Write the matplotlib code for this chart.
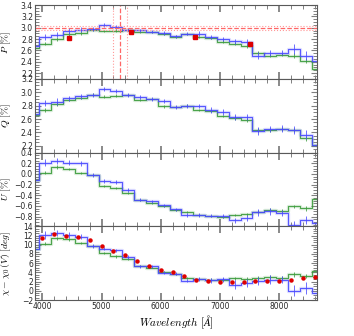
import matplotlib
matplotlib.use('Agg')
import matplotlib.pyplot as plt
from matplotlib.ticker import MultipleLocator, AutoMinorLocator

plt.rcParams['mathtext.fontset'] = 'cm'

# bin centres (Angstrom)
wave = [3850, 4050, 4250, 4450, 4650, 4850, 5050, 5250, 5450, 5650, 5850, 6050, 6250,
        6450, 6650, 6850, 7050, 7250, 7450, 7650, 7850, 8050, 8250, 8450, 8650]

p_blue = [2.68, 2.84, 2.88, 2.94, 2.966, 2.975, 3.05, 3.01, 2.966, 2.955, 2.93, 2.91, 2.85,
          2.895, 2.895, 2.836, 2.80, 2.76, 2.745, 2.505, 2.55, 2.563, 2.62, 2.51, 2.405]
p_green = [2.64, 2.72, 2.80, 2.89, 2.91, 2.954, 2.94, 2.95, 2.96, 2.92, 2.925, 2.89, 2.845,
           2.895, 2.836, 2.82, 2.755, 2.722, 2.68, 2.56, 2.51, 2.528, 2.51, 2.42, 2.265]
p_blue_err = [0.04, 0.05, 0.05, 0.05, 0.04, 0.04, 0.04, 0.03, 0.03, 0.03, 0.03, 0.03, 0.03,
              0.03, 0.04, 0.03, 0.04, 0.05, 0.05, 0.06, 0.05, 0.04, 0.09, 0.08, 0.08]
p_green_err = [0.03, 0.03, 0.03, 0.03, 0.03, 0.02, 0.02, 0.02, 0.02, 0.02, 0.02, 0.02, 0.02,
               0.02, 0.02, 0.02, 0.03, 0.03, 0.03, 0.03, 0.03, 0.03, 0.04, 0.04, 0.04]

q_blue = [2.68, 2.84, 2.86, 2.91, 2.94, 2.965, 3.05, 3.02, 2.96, 2.925, 2.90, 2.875, 2.78,
          2.80, 2.79, 2.735, 2.705, 2.63, 2.63, 2.415, 2.45, 2.455, 2.44, 2.365, 2.21]
q_green = [2.655, 2.735, 2.82, 2.885, 2.915, 2.965, 2.935, 2.95, 2.96, 2.885, 2.90, 2.79, 2.78,
           2.80, 2.735, 2.72, 2.645, 2.62, 2.58, 2.44, 2.44, 2.455, 2.43, 2.31, 2.21]
q_blue_err = [0.04, 0.05, 0.05, 0.04, 0.04, 0.03, 0.03, 0.03, 0.03, 0.03, 0.03, 0.03, 0.03,
              0.03, 0.03, 0.04, 0.04, 0.04, 0.05, 0.06, 0.05, 0.05, 0.06, 0.07, 0.07]
q_green_err = [0.03, 0.03, 0.03, 0.02, 0.02, 0.02, 0.02, 0.02, 0.02, 0.02, 0.02, 0.02, 0.02,
               0.02, 0.02, 0.02, 0.02, 0.03, 0.03, 0.03, 0.03, 0.03, 0.03, 0.04, 0.04]

u_blue = [-0.11, 0.21, 0.245, 0.21, 0.195, -0.025, -0.13, -0.155, -0.30, -0.48, -0.51, -0.59, -0.66,
          -0.77, -0.77, -0.785, -0.785, -0.87, -0.82, -0.72, -0.70, -0.735, -0.95, -0.86, -0.915]
u_green = [-0.11, 0.02, 0.13, 0.10, 0.02, -0.025, -0.225, -0.27, -0.355, -0.48, -0.54, -0.605, -0.68,
           -0.72, -0.765, -0.785, -0.805, -0.765, -0.755, -0.71, -0.67, -0.69, -0.605, -0.645, -0.475]
u_blue_err = [0.05, 0.06, 0.06, 0.05, 0.04, 0.04, 0.04, 0.04, 0.04, 0.03, 0.03, 0.03, 0.03,
              0.03, 0.03, 0.03, 0.04, 0.05, 0.06, 0.07, 0.07, 0.06, 0.07, 0.08, 0.08]
u_green_err = [0.03, 0.03, 0.03, 0.02, 0.02, 0.02, 0.02, 0.02, 0.02, 0.02, 0.02, 0.02, 0.02,
               0.02, 0.02, 0.02, 0.02, 0.02, 0.03, 0.03, 0.03, 0.03, 0.03, 0.04, 0.04]

chi_blue = [9.1, 12.1, 12.5, 12.1, 11.75, 9.75, 9.15, 8.77, 7.4, 5.3, 5.3, 3.95, 3.7,
            2.24, 2.6, 2.3, 2.5, 1.35, 1.73, 2.1, 2.45, 2.45, 0.0, 0.6, -0.4]
chi_green = [9.1, 10.25, 11.4, 11.15, 10.4, 9.75, 8.2, 7.5, 6.9, 5.3, 5.05, 4.1, 3.6,
             2.85, 2.6, 2.45, 2.45, 2.7, 2.6, 2.85, 3.05, 2.85, 3.6, 3.2, 4.3]
chi_blue_err = [0.6, 0.8, 0.7, 0.6, 0.5, 0.4, 0.4, 0.4, 0.4, 0.3, 0.3, 0.3, 0.3,
                0.3, 0.4, 0.5, 0.6, 0.9, 0.9, 0.8, 1.0, 0.8, 1.2, 1.3, 1.3]
chi_green_err = [0.3, 0.4, 0.3, 0.3, 0.3, 0.3, 0.3, 0.3, 0.3, 0.2, 0.2, 0.2, 0.2,
                 0.2, 0.2, 0.3, 0.3, 0.3, 0.3, 0.4, 0.4, 0.4, 0.5, 0.5, 0.5]

# broad-band values (red points)
band_wave = [4450, 5500, 6580, 7500]
band_p = [2.825, 2.93, 2.84, 2.71]
band_p_err = [0.03, 0.02, 0.02, 0.02]

chi_dot_wave = [4000, 4200, 4400, 4600, 4800, 5000, 5200, 5400, 5600, 5800, 6000, 6200,
                6400, 6600, 6800, 7000, 7200, 7400, 7600, 7800, 8000, 8200, 8400, 8600]
chi_dot = [11.5, 12.3, 12.0, 11.6, 11.0, 9.7, 8.6, 7.7, 6.4, 5.3, 4.6, 4.0,
           3.2, 2.45, 2.05, 1.9, 1.95, 2.0, 2.1, 2.15, 2.1, 2.3, 2.7, 3.1]

# Serkowski fit: pmax and lambda_max with errors
pmax, pmax_err = 2.995, 0.04
lmax, lmax_err = 5310, 115

blue = '#4a4aff'
green = '#3c9c3c'

fig = plt.figure(figsize=(3.54, 3.36), dpi=100)
gs = fig.add_gridspec(4, 1, left=0.099, right=0.8955, top=0.985, bottom=0.107, hspace=0)
axes = [fig.add_subplot(gs[i]) for i in range(4)]

panels = [
    (p_blue, p_blue_err, p_green, p_green_err, (2.1, 3.4), 0.2, r'$P\ [\%]$'),
    (q_blue, q_blue_err, q_green, q_green_err, (2.1, 3.2), 0.2, r'$Q\ [\%]$'),
    (u_blue, u_blue_err, u_green, u_green_err, (-0.98, 0.4), 0.2, r'$U\ [\%]$'),
    (chi_blue, chi_blue_err, chi_green, chi_green_err, (-2, 14), 2, r'$\chi-\chi_0\,(V)\ [deg]$'),
]

for ax, (yb, eb, yg, eg, ylim, step, lab) in zip(axes, panels):
    for y, e, c in [(yg, eg, green), (yb, eb, blue)]:
        ax.step(wave, y, where='mid', color=c, lw=2.4, alpha=0.18)
        ax.step(wave, y, where='mid', color=c, lw=0.8, alpha=0.9)
        ax.errorbar(wave, y, yerr=e, fmt='none', ecolor=c, elinewidth=0.7, capsize=0, alpha=0.8)
    ax.set_xlim(3877, 8640)
    ax.set_ylim(*ylim)
    ax.yaxis.set_major_locator(MultipleLocator(step))
    ax.yaxis.set_minor_locator(AutoMinorLocator(4))
    ax.xaxis.set_major_locator(MultipleLocator(1000))
    ax.xaxis.set_minor_locator(MultipleLocator(200))
    ax.tick_params(which='both', direction='in', top=True, right=True, colors='0.5',
                   labelcolor='0.15', labelsize=5.5, pad=1.5)
    ax.tick_params(which='major', length=5, width=1.3)
    ax.tick_params(which='minor', length=3, width=0.7)
    ax.tick_params(axis='y', which='major', length=4, width=0.8)
    for s in ax.spines.values():
        s.set_color('0.35')
    ax.set_ylabel(lab, fontsize=7, labelpad=1)
    if ax is not axes[-1]:
        ax.tick_params(labelbottom=False)

ax = axes[0]
ax.axhline(pmax, color='#ff6666', ls='--', lw=0.9)
ax.axhline(pmax - pmax_err, color='#ff9999', ls=':', lw=0.8)
ax.axhline(pmax + pmax_err, color='#ff9999', ls=':', lw=0.8)
ax.axvline(lmax, color='#ff6666', ls='--', lw=0.9)
ax.axvline(lmax - lmax_err, color='#ff9999', ls=':', lw=0.8)
ax.axvline(lmax + lmax_err, color='#ff9999', ls=':', lw=0.8)
ax.errorbar(band_wave, band_p, yerr=band_p_err, fmt='s', color='#dd0000', ms=2.2,
            elinewidth=0.8, capsize=0, zorder=5)

axes[3].plot(chi_dot_wave, chi_dot, 'o', color='#dd0000', ms=2.2, zorder=5)
axes[3].set_xlabel(r'$Wavelength\ [\AA]$', fontsize=8, labelpad=2)

fig.align_ylabels(axes)
fig.savefig('out.png', dpi=100)
